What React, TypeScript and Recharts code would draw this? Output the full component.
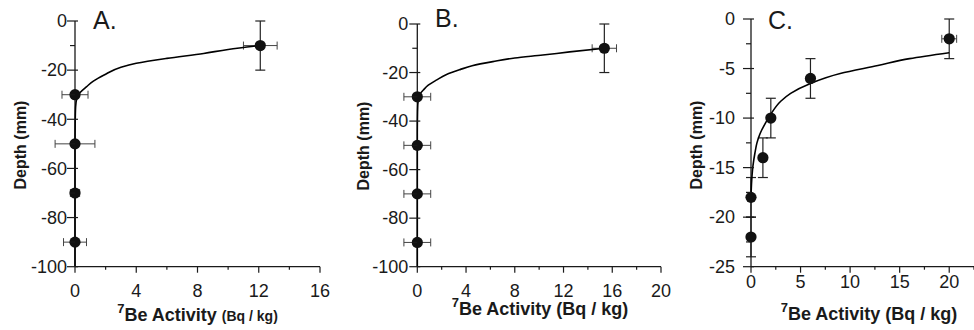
import React from 'react';
import { ScatterChart, Scatter, XAxis, YAxis, ErrorBar, Label } from 'recharts';

const FONT = '"Liberation Sans", Arial, Helvetica, sans-serif';
const INK = '#1a1a1a';

// ---------- Panel A ----------
const aActivity = [12.1, 0, 0, 0, 0];
const aDepth = [-10, -30, -50, -70, -90];
const aActivityErr = [1.1, 0.85, 1.3, 0.3, 0.75];
const aDepthErr = [10, 0, 0, 0, 0];
const aCurveActivity = [12.1, 10, 8.4, 6, 4, 3, 1.9, 1.2, 0.76, 0.35, 0.12, 0.04, 0.01, 0, 0];
const aCurveDepth = [-10, -11.6, -13.2, -15.2, -17.2, -18.8, -22, -24.5, -26.7, -29, -31.5, -35, -42, -50, -100];
const aXMajor = [0, 4, 8, 12, 16];
const aXMinor = [2, 6, 10, 14];
const aYMajor = [0, -20, -40, -60, -80, -100];
const aYMinor = [-10, -30, -50, -70, -90];

// ---------- Panel B ----------
const bActivity = [15.35, 0, 0, 0, 0];
const bDepth = [-10, -30, -50, -70, -90];
const bActivityErr = [1.0, 1.1, 1.1, 1.1, 1.1];
const bDepthErr = [10, 0, 0, 0, 0];
const bCurveActivity = [15.35, 12.5, 10.3, 8, 6.2, 4.5, 3.5, 2.4, 1.6, 0.9, 0.5, 0.2, 0.08, 0.02, 0, 0];
const bCurveDepth = [-10, -11.5, -12.8, -14, -15.5, -17.2, -18.8, -20.8, -23, -25.2, -27.2, -29, -31, -36, -45, -100];
const bXMajor = [0, 4, 8, 12, 16, 20];
const bXMinor = [2, 6, 10, 14, 18];
const bYMajor = [0, -20, -40, -60, -80, -100];
const bYMinor = [-10, -30, -50, -70, -90];

// ---------- Panel C ----------
const cActivity = [20, 6, 2, 1.2, 0, 0];
const cDepth = [-2, -6, -10, -14, -18, -22];
const cActivityErr = [0.75, 0, 0, 0, 0, 0];
const cDepthErr = [2, 2, 2, 2, 2, 2];
const cCurveActivity = [20, 16, 12.8, 9, 6, 4, 3, 2, 1.4, 0.9, 0.6, 0.4, 0.2, 0.07, 0];
const cCurveDepth = [-3.4, -4.0, -4.7, -5.5, -6.5, -7.5, -8.3, -9.6, -10.6, -11.6, -12.5, -13.5, -14.8, -16.3, -18];
const cXMajor = [0, 5, 10, 15, 20];
const cXMinor = [2.5, 7.5, 12.5, 17.5, 22.5];
const cYMajor = [0, -5, -10, -15, -20, -25];
const cYMinor = [-2.5, -7.5, -12.5, -17.5, -22.5];

const panels = [
  {
    key: 'A', title: 'A.', left: 0, width: 340, yAxisWidth: 75, rightMargin: 20,
    plotTop: 21, plotBottom: 266.7, xDomain: [0, 16], yDomain: [-100, 0],
    activity: aActivity, depth: aDepth, actErr: aActivityErr, depthErr: aDepthErr,
    curveX: aCurveActivity, curveY: aCurveDepth,
    xMajor: aXMajor, xMinor: aXMinor, yMajor: aYMajor, yMinor: aYMinor,
    titleX: 93, titleY: 28.5, yTitleX: 20, yTitleY: 145, xTitleX: 197.5, xTitleY: 321,
    smallUnits: true, yLabelGap: 8, xLabelDy: 30,
  },
  {
    key: 'B', title: 'B.', left: 340, width: 324, yAxisWidth: 77.3, rightMargin: 3,
    plotTop: 24, plotBottom: 266.7, xDomain: [0, 20], yDomain: [-100, 0],
    activity: bActivity, depth: bDepth, actErr: bActivityErr, depthErr: bDepthErr,
    curveX: bCurveActivity, curveY: bCurveDepth,
    xMajor: bXMajor, xMinor: bXMinor, yMajor: bYMajor, yMinor: bYMinor,
    titleX: 435, titleY: 27, yTitleX: 363, yTitleY: 146, xTitleX: 540, xTitleY: 315,
    smallUnits: false, yLabelGap: 9, xLabelDy: 30,
  },
  {
    key: 'C', title: 'C.', left: 664, width: 310, yAxisWidth: 87, rightMargin: 0,
    plotTop: 19, plotBottom: 266.7, xDomain: [0, 22.5], yDomain: [-25, 0],
    activity: cActivity, depth: cDepth, actErr: cActivityErr, depthErr: cDepthErr,
    curveX: cCurveActivity, curveY: cCurveDepth,
    xMajor: cXMajor, xMinor: cXMinor, yMajor: cYMajor, yMinor: cYMinor,
    titleX: 768, titleY: 28.5, yTitleX: 696, yTitleY: 145, xTitleX: 869, xTitleY: 320,
    smallUnits: false, yLabelGap: 16, xLabelDy: 21,
  },
];

const Dot = (props: any) => {
  if (props.cx == null || props.cy == null) return <g />;
  return <circle cx={props.cx} cy={props.cy} r={5.6} fill="#111" />;
};

function Panel({ p }: { p: any }) {
  const pts = p.activity.map((v: number, i: number) => ({
    x: v, y: p.depth[i], xe: p.actErr[i], ye: p.depthErr[i],
  }));
  const curve = p.curveX.map((v: number, i: number) => ({ x: v, y: p.curveY[i] }));
  const xTicks = [...p.xMajor, ...p.xMinor].sort((a: number, b: number) => a - b);
  const yTicks = [...p.yMajor, ...p.yMinor].sort((a: number, b: number) => a - b);
  const L = p.left;

  const XTick = (t: any) => {
    const v = t.payload.value;
    const major = p.xMajor.includes(v);
    return (
      <g>
        <line x1={t.x} x2={t.x} y1={t.y} y2={t.y + (major ? 6 : 3)} stroke={INK} strokeWidth={1.2} />
        {major && (
          <text x={t.x} y={t.y + p.xLabelDy} textAnchor="middle" fontSize={18} fontFamily={FONT} fill={INK}>
            {String(v)}
          </text>
        )}
      </g>
    );
  };

  const YTick = (t: any) => {
    const v = t.payload.value;
    const major = p.yMajor.includes(v);
    return (
      <g>
        <line x1={t.x - (major ? 8 : 5)} x2={t.x + (major ? 3 : 0)} y1={t.y} y2={t.y} stroke={INK} strokeWidth={1.2} />
        {major && (
          <text x={t.x - p.yLabelGap} y={t.y + 6.3} textAnchor="end" fontSize={18} fontFamily={FONT} fill={INK}>
            {String(v)}
          </text>
        )}
      </g>
    );
  };

  const texts = () => (
    <g>
      <text x={p.titleX - L} y={p.titleY} fontSize={25} fontFamily={FONT} fill={INK}>{p.title}</text>
      <text
        x={p.yTitleX - L} y={p.yTitleY}
        transform={`rotate(-90 ${p.yTitleX - L} ${p.yTitleY})`}
        textAnchor="middle" dominantBaseline="central"
        fontSize={16} fontWeight="bold" fontFamily={FONT} fill={INK}
      >
        Depth (mm)
      </text>
      <text x={p.xTitleX - L} y={p.xTitleY} textAnchor="middle" fontSize={18} fontWeight="bold" fontFamily={FONT} fill={INK}>
        <tspan fontSize={13} dy={-8.5}>7</tspan>
        <tspan dy={8.5}>Be Activity </tspan>
        <tspan fontSize={p.smallUnits ? 14 : 18}>(Bq / kg)</tspan>
      </text>
    </g>
  );

  return (
    <div style={{ position: 'absolute', left: L, top: 0, width: p.width, height: 330 }}>
      <ScatterChart
        width={p.width}
        height={330}
        margin={{ top: p.plotTop, right: p.rightMargin, bottom: 330 - p.plotBottom - 30, left: 0 }}
      >
        <XAxis
          type="number" dataKey="x" domain={p.xDomain} allowDataOverflow ticks={xTicks} interval={0}
          tickSize={0} tickMargin={0} tickLine={false} tick={XTick} height={30}
          axisLine={{ stroke: INK, strokeWidth: 1.3 }}
        />
        <YAxis
          type="number" dataKey="y" domain={p.yDomain} allowDataOverflow ticks={yTicks} interval={0}
          tickSize={0} tickMargin={0} tickLine={false} tick={YTick} width={p.yAxisWidth}
          axisLine={{ stroke: INK, strokeWidth: 1.3 }}
        >
          <Label content={texts} />
        </YAxis>
        <Scatter
          data={curve} line={{ stroke: '#000', strokeWidth: 1.6 }} lineType="joint" lineJointType="monotoneY"
          shape={() => <g />} isAnimationActive={false}
        />
        <Scatter data={pts} shape={Dot} isAnimationActive={false}>
          <ErrorBar dataKey="xe" direction="x" width={4} stroke="#444" strokeWidth={1} isAnimationActive={false} />
          <ErrorBar dataKey="ye" direction="y" width={5} stroke="#222" strokeWidth={1.2} isAnimationActive={false} />
        </Scatter>
      </ScatterChart>
    </div>
  );
}

export default function App() {
  return (
    <div style={{ position: 'absolute', left: 0, top: 0, width: 974, height: 330, background: '#fff' }}>
      <style>{'.recharts-wrapper [clip-path] { clip-path: none !important; } .recharts-surface { overflow: visible; }'}</style>
      {panels.map((p) => (
        <Panel key={p.key} p={p} />
      ))}
    </div>
  );
}
